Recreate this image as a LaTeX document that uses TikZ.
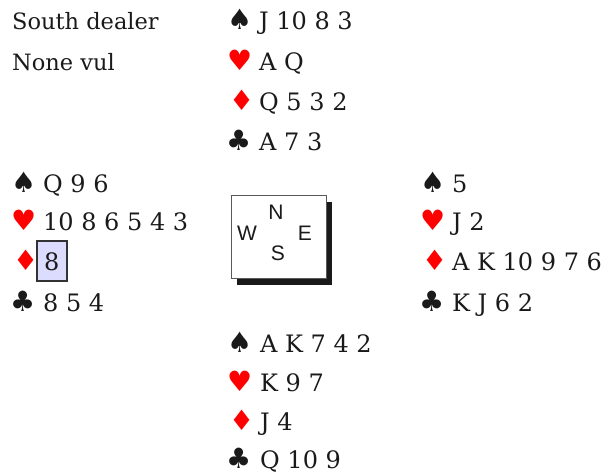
\documentclass[tikz,border=0pt]{standalone}
\usepackage{fontspec}
\newfontfamily\cardfont{DejaVu Serif}
\newfontfamily\suitfont{DejaVu Sans}
\newfontfamily\compfont{Liberation Sans}
\definecolor{suitred}{HTML}{FF0000}
\definecolor{ink}{HTML}{1A1A1A}
\definecolor{lav}{HTML}{DCDCFF}
\newcommand\handtext[1]{{\cardfont\fontsize{24}{28}\selectfont #1}}
\newcommand\infotext[1]{{\cardfont\fontsize{22.5}{28}\selectfont #1}}
\tikzset{
  hand/.style={anchor=base west, inner sep=0pt, text=ink},
  blk/.style={anchor=base west, inner sep=0pt, text=ink, font=\suitfont\fontsize{28}{32}\selectfont},
  red/.style={anchor=base west, inner sep=0pt, text=suitred, font=\suitfont\fontsize{28}{32}\selectfont},
  compass/.style={anchor=center, inner sep=0pt, text=ink, font=\compfont\fontsize{21}{24}\selectfont},
  cardbox/.style={draw=black!80, line width=2pt, fill=lav},
}
\begin{document}
\begin{tikzpicture}[x=1pt,y=-1pt]
\useasboundingbox (0,0) rectangle (606,475);
% info
\node[hand] (dealer) at (12,29) {\infotext{South dealer}};
\node[hand] (vul) at (12,70) {\infotext{None vul}};
% North
\node[blk] (ns) at (227,29) {♠};
\node[hand] (nsc) at (259,29) {\handtext{J 10 8 3}};
\node[red] (nh) at (227,70) {♥};
\node[hand] (nhc) at (259,70) {\handtext{A Q}};
\node[red] (nd) at (229,110) {♦};
\node[hand] (ndc) at (259,110) {\handtext{Q 5 3 2}};
\node[blk] (nc) at (226,150) {♣};
\node[hand] (ncc) at (259,150) {\handtext{A 7 3}};
% West
\node[blk] (ws) at (11,192) {♠};
\node[hand] (wsc) at (43,192) {\handtext{Q 9 6}};
\node[red] (wh) at (11,230) {♥};
\node[hand] (whc) at (43,230) {\handtext{10 8 6 5 4 3}};
\node[red] (wd) at (13,270) {♦};
\draw[cardbox] (37,241) rectangle (67,281);
\node[hand] (wdc) at (44,270) {\handtext{8}};
\node[blk] (wc) at (10,311) {♣};
\node[hand] (wcc) at (43,311) {\handtext{8 5 4}};
% East
\node[blk] (es) at (420,192) {♠};
\node[hand] (esc) at (452,192) {\handtext{5}};
\node[red] (eh) at (420,230) {♥};
\node[hand] (ehc) at (452,230) {\handtext{J 2}};
\node[red] (ed) at (422,270) {♦};
\node[hand] (edc) at (452,270) {\handtext{A K 10 9 7 6}};
\node[blk] (ec) at (419,311) {♣};
\node[hand] (ecc) at (452,311) {\handtext{K J 6 2}};
% South
\node[blk] (ss) at (227,352) {♠};
\node[hand] (ssc) at (260,352) {\handtext{A K 7 4 2}};
\node[red] (sh) at (227,391) {♥};
\node[hand] (shc) at (260,391) {\handtext{K 9 7}};
\node[red] (sd) at (229,430) {♦};
\node[hand] (sdc) at (260,430) {\handtext{J 4}};
\node[blk] (sc) at (226,468) {♣};
\node[hand] (scc) at (260,468) {\handtext{Q 10 9}};
% compass
\fill[ink] (237,202) rectangle (332,285);
\draw[fill=white, draw=black!65, line width=0.8pt] (231,195) rectangle (326,278);
\node[compass] (cn) at (276,212) {N};
\node[compass] (cw) at (247,233) {W};
\node[compass] (ce) at (305,233) {E};
\node[compass] (cs) at (278,253) {S};
\end{tikzpicture}
\end{document}
